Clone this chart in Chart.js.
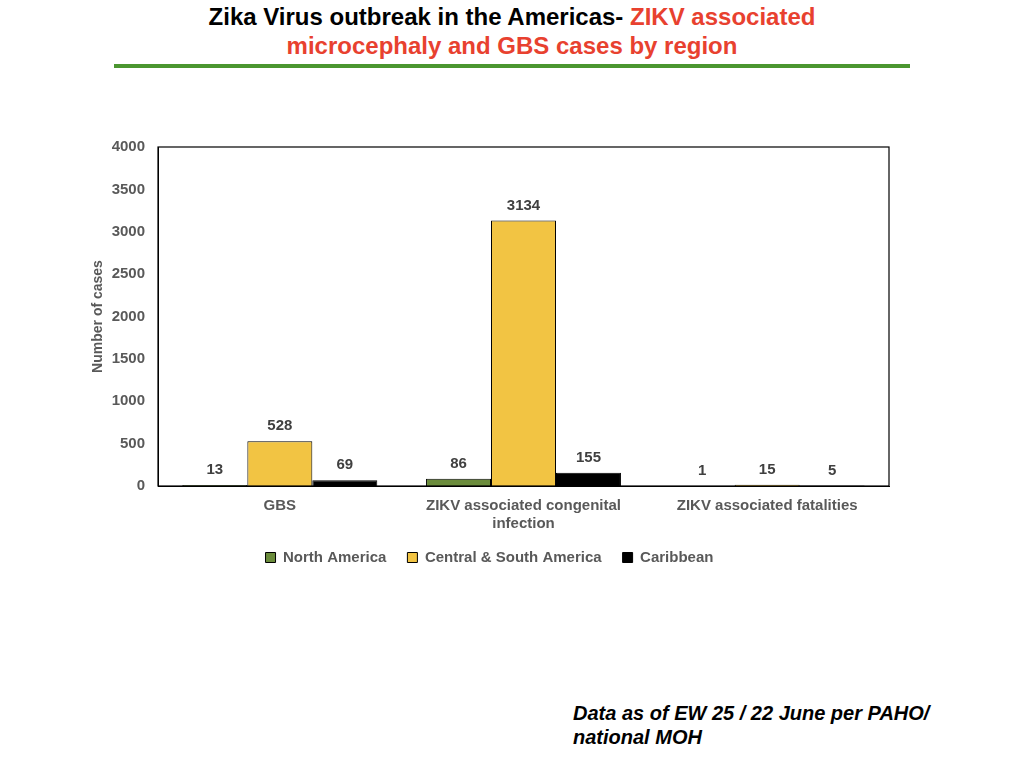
<!DOCTYPE html>
<html>
<head>
<meta charset="utf-8">
<script src="https://cdn.jsdelivr.net/npm/chart.js@4.4.0/dist/chart.umd.min.js"></script>
<style>
  body { margin: 0; width: 1024px; height: 768px; background: #fff; position: relative; overflow: hidden; font-family: "Liberation Sans", Arial, sans-serif; }
  .title { position: absolute; top: 2px; left: 0; width: 1024px; text-align: center; font-weight: bold; font-size: 24px; line-height: 29px; color: #000; }
  .title .red { color: #e8412f; }
  .rule { position: absolute; left: 114px; top: 64px; width: 796px; height: 4px; background: #4b9630; }
  .note { position: absolute; left: 573px; top: 701px; font-weight: bold; font-style: italic; font-size: 20px; line-height: 24px; color: #000; }
  #wrap { position: absolute; left: 80px; top: 130px; width: 840px; height: 449px; }
</style>
</head>
<body>
<div class="title">Zika Virus outbreak in the Americas- <span class="red">ZIKV associated</span><br><span class="red">microcephaly and GBS cases by region</span></div>
<div class="rule"></div>
<div id="wrap"><canvas id="chart"></canvas></div>
<div class="note">Data as of EW 25 / 22 June per PAHO/<br>national MOH</div>

<script>
// categories and values
const categories = ['GBS', ['ZIKV associated congenital', 'infection'], 'ZIKV associated fatalities'];
const seriesNames = ['North America', 'Central & South America', 'Caribbean'];
const northAmerica = [13, 86, 1];
const centralSouthAmerica = [528, 3134, 15];
const caribbean = [69, 155, 5];
const seriesColors = ['#6b8c3c', '#f2c443', '#000000'];

const textGray = '#595959';
const fontFamily = '"Liberation Sans", Arial, sans-serif';

// draw the value above each bar
const valueLabels = {
    id: 'valueLabels',
    afterDatasetsDraw(chart) {
        let ctx = chart.ctx;
        ctx.save();
        ctx.font = 'bold 15px ' + fontFamily;
        ctx.fillStyle = '#404040';
        ctx.textAlign = 'center';
        ctx.textBaseline = 'middle';
        chart.data.datasets.forEach(function(ds, i) {
            chart.getDatasetMeta(i).data.forEach(function(bar, j) {
                ctx.fillText(ds.data[j], bar.x, bar.y - 15);
            });
        });
        ctx.restore();
    }
};

// box around plot area
const plotBorder = {
    id: 'plotBorder',
    afterDraw(chart) {
        let a = chart.chartArea;
        let ctx = chart.ctx;
        ctx.save();
        ctx.strokeStyle = '#000';
        ctx.lineWidth = 1.2;
        ctx.strokeRect(a.left, a.top, a.right - a.left, a.bottom - a.top);
        ctx.restore();
    }
};

// pull the legend a little closer to the axis labels
const legendNudge = {
    id: 'legendNudge',
    afterLayout(chart) {
        chart.legend.top -= 4;
        chart.legend.bottom -= 4;
    }
};

let datasets = [northAmerica, centralSouthAmerica, caribbean].map(function(values, i) {
    return {
        label: seriesNames[i],
        data: values,
        backgroundColor: seriesColors[i],
        borderColor: '#000',
        borderWidth: 1,
        categoryPercentage: 0.8,
        barPercentage: 1.0
    };
});

new Chart(document.getElementById('chart'), {
    type: 'bar',
    data: { labels: categories, datasets: datasets },
    plugins: [valueLabels, plotBorder, legendNudge],
    options: {
        responsive: true,
        maintainAspectRatio: false,
        animation: false,
        layout: { padding: { top: 17, right: 31, left: 10, bottom: 0 } },
        plugins: {
            legend: {
                position: 'bottom',
                labels: {
                    boxWidth: 10,
                    boxHeight: 10,
                    padding: 21,
                    color: textGray,
                    font: { family: fontFamily, size: 15, weight: 'bold' }
                }
            },
            tooltip: { enabled: false }
        },
        scales: {
            x: {
                grid: { display: false },
                border: { color: '#000' },
                ticks: {
                    color: textGray,
                    padding: 3,
                    font: { family: fontFamily, size: 15, weight: 'bold' }
                },
                afterFit(scale) { scale.height = 47; }
            },
            y: {
                min: 0,
                max: 4000,
                grid: { display: false },
                border: { color: '#000' },
                ticks: {
                    stepSize: 500,
                    color: textGray,
                    padding: 5,
                    font: { family: fontFamily, size: 15, weight: 'bold' },
                    callback: function(v) { return String(v); }
                },
                title: {
                    display: true,
                    text: 'Number of cases',
                    color: textGray,
                    padding: { top: 0, bottom: 4 },
                    font: { family: fontFamily, size: 14, weight: 'bold' }
                },
                afterFit(scale) { scale.width = 68; }
            }
        }
    }
});
</script>
</body>
</html>
